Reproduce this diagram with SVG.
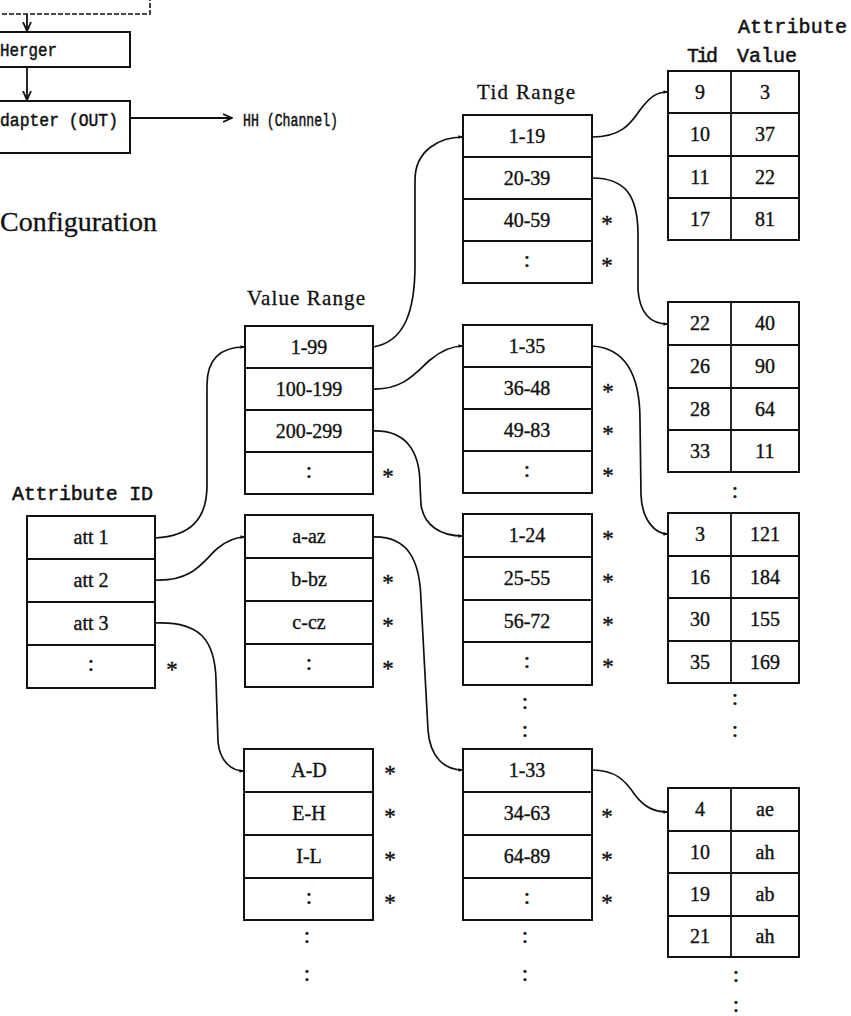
<svg xmlns="http://www.w3.org/2000/svg" width="851" height="1016" viewBox="0 0 851 1016">
<style>
.box{fill:#fff;stroke:#111;stroke-width:2}
.ln{stroke:#111;stroke-width:1.8}
.c{font-family:"Liberation Serif",serif;font-size:20px;text-anchor:middle;fill:#111;stroke:#111;stroke-width:0.35}
.col{font-family:"Liberation Serif",serif;font-size:23px;text-anchor:middle;fill:#111;stroke:#111;stroke-width:0.4}
.st{font-family:"Liberation Serif",serif;font-size:23px;text-anchor:middle;fill:#111;stroke:#111;stroke-width:0.4}
.hd{font-family:"Liberation Serif",serif;font-size:21px;fill:#111;stroke:#111;stroke-width:0.3}
.mono{font-family:"Liberation Mono",monospace;font-size:20px;fill:#111;stroke:#111;stroke-width:0.5}
.conn{fill:none;stroke:#111;stroke-width:1.7}
.arr{fill:none;stroke:#111;stroke-width:1.8}
</style>
<defs>
<marker id="ah" viewBox="0 0 6 6" refX="5.5" refY="3" markerWidth="5" markerHeight="5" markerUnits="userSpaceOnUse" orient="auto"><path d="M0,0.8 L6,3 L0,5.2 Z" fill="#111"/></marker>
<marker id="v" viewBox="0 0 10 10" refX="9" refY="5" markerWidth="10" markerHeight="10" markerUnits="userSpaceOnUse" orient="auto"><path d="M0,1 L9,5 L0,9" fill="none" stroke="#111" stroke-width="1.8"/></marker>
</defs>

<!-- top-left partial block diagram -->
<g id="prev-box"><path d="M-5,14 L150,14 L150,-5" fill="none" stroke="#111" stroke-width="1.6" stroke-dasharray="5,2"/></g>
<g id="merger"><rect x="-5" y="32" width="135" height="35" class="box"/><text x="0" y="56" class="mono" style="font-size:19px" textLength="57" lengthAdjust="spacingAndGlyphs">Herger</text></g>
<g id="adapter"><rect x="-5" y="101" width="135" height="52" class="box"/><text x="0" y="126" class="mono" style="font-size:19px" textLength="118" lengthAdjust="spacingAndGlyphs">dapter (OUT)</text></g>
<g id="channel"><text x="243" y="126" class="mono" style="font-size:18px" textLength="95" lengthAdjust="spacingAndGlyphs">HH (Channel)</text></g>
<text x="0" y="231" class="hd" style="font-size:28px">Configuration</text>

<!-- headers -->
<text x="477" y="99" class="hd" textLength="98">Tid Range</text>
<text x="247" y="305" class="hd" textLength="118">Value Range</text>
<text x="12" y="500" class="mono" textLength="141">Attribute ID</text>
<text x="738" y="33" class="mono" textLength="109">Attribute</text>
<text x="687" y="62" class="mono" textLength="31">Tid</text>
<text x="737" y="62" class="mono" textLength="60">Value</text>

<!-- Attribute ID table -->
<g id="attr-id">
<rect x="27" y="516" width="128" height="172" class="box"/>
<line x1="27" y1="559" x2="155" y2="559" class="ln"/><line x1="27" y1="602" x2="155" y2="602" class="ln"/><line x1="27" y1="645" x2="155" y2="645" class="ln"/>
<text x="91" y="544" class="c">att 1</text><text x="91" y="587" class="c">att 2</text><text x="91" y="630" class="c">att 3</text><text x="91" y="671" class="col">:</text>
<text x="172" y="677" class="st">*</text>
</g>

<!-- Value Range tables -->
<g id="vr1">
<rect x="245" y="326" width="128" height="168" class="box"/>
<line x1="245" y1="368" x2="373" y2="368" class="ln"/><line x1="245" y1="410" x2="373" y2="410" class="ln"/><line x1="245" y1="452" x2="373" y2="452" class="ln"/>
<text x="309" y="354" class="c">1-99</text><text x="309" y="396" class="c">100-199</text><text x="309" y="438" class="c">200-299</text><text x="309" y="478" class="col">:</text>
<text x="388" y="484" class="st">*</text>
</g>
<g id="vr2">
<rect x="245" y="515" width="128" height="172" class="box"/>
<line x1="245" y1="558" x2="373" y2="558" class="ln"/><line x1="245" y1="601" x2="373" y2="601" class="ln"/><line x1="245" y1="644" x2="373" y2="644" class="ln"/>
<text x="309" y="543" class="c">a-az</text><text x="309" y="586" class="c">b-bz</text><text x="309" y="629" class="c">c-cz</text><text x="309" y="670" class="col">:</text>
<text x="388" y="590" class="st">*</text><text x="388" y="633" class="st">*</text><text x="388" y="676" class="st">*</text>
</g>
<g id="vr3">
<rect x="244" y="749" width="129" height="171" class="box"/>
<line x1="244" y1="792" x2="373" y2="792" class="ln"/><line x1="244" y1="835" x2="373" y2="835" class="ln"/><line x1="244" y1="878" x2="373" y2="878" class="ln"/>
<text x="309" y="777" class="c">A-D</text><text x="309" y="820" class="c">E-H</text><text x="309" y="863" class="c">I-L</text><text x="309" y="904" class="col">:</text>
<text x="390" y="781" class="st">*</text><text x="390" y="824" class="st">*</text><text x="390" y="867" class="st">*</text><text x="390" y="910" class="st">*</text>
<text x="307" y="943" class="col">:</text><text x="307" y="981" class="col">:</text>
</g>

<!-- Tid Range tables -->
<g id="tr1">
<rect x="463" y="115" width="129" height="168" class="box"/>
<line x1="463" y1="157" x2="592" y2="157" class="ln"/><line x1="463" y1="199" x2="592" y2="199" class="ln"/><line x1="463" y1="241" x2="592" y2="241" class="ln"/>
<text x="527" y="143" class="c">1-19</text><text x="527" y="185" class="c">20-39</text><text x="527" y="227" class="c">40-59</text><text x="527" y="267" class="col">:</text>
<text x="607" y="231" class="st">*</text><text x="607" y="273" class="st">*</text>
</g>
<g id="tr2">
<rect x="463" y="325" width="129" height="168" class="box"/>
<line x1="463" y1="367" x2="592" y2="367" class="ln"/><line x1="463" y1="409" x2="592" y2="409" class="ln"/><line x1="463" y1="451" x2="592" y2="451" class="ln"/>
<text x="527" y="353" class="c">1-35</text><text x="527" y="395" class="c">36-48</text><text x="527" y="437" class="c">49-83</text><text x="527" y="477" class="col">:</text>
<text x="608" y="399" class="st">*</text><text x="608" y="441" class="st">*</text><text x="608" y="483" class="st">*</text>
</g>
<g id="tr3">
<rect x="463" y="514" width="129" height="171" class="box"/>
<line x1="463" y1="557" x2="592" y2="557" class="ln"/><line x1="463" y1="600" x2="592" y2="600" class="ln"/><line x1="463" y1="642" x2="592" y2="642" class="ln"/>
<text x="527" y="542" class="c">1-24</text><text x="527" y="585" class="c">25-55</text><text x="527" y="628" class="c">56-72</text><text x="527" y="668" class="col">:</text>
<text x="608" y="546" class="st">*</text><text x="608" y="589" class="st">*</text><text x="608" y="632" class="st">*</text><text x="608" y="674" class="st">*</text>
<text x="525" y="709" class="col">:</text><text x="525" y="737" class="col">:</text>
</g>
<g id="tr4">
<rect x="463" y="749" width="129" height="171" class="box"/>
<line x1="463" y1="792" x2="592" y2="792" class="ln"/><line x1="463" y1="835" x2="592" y2="835" class="ln"/><line x1="463" y1="878" x2="592" y2="878" class="ln"/>
<text x="527" y="777" class="c">1-33</text><text x="527" y="820" class="c">34-63</text><text x="527" y="863" class="c">64-89</text><text x="527" y="904" class="col">:</text>
<text x="607" y="824" class="st">*</text><text x="607" y="867" class="st">*</text><text x="607" y="910" class="st">*</text>
<text x="525" y="943" class="col">:</text><text x="525" y="981" class="col">:</text>
</g>

<!-- Tid / Attribute Value tables -->
<g id="tv1">
<rect x="668" y="71" width="131" height="169" class="box"/>
<line x1="731" y1="71" x2="731" y2="240" class="ln"/>
<line x1="668" y1="113" x2="799" y2="113" class="ln"/><line x1="668" y1="156" x2="799" y2="156" class="ln"/><line x1="668" y1="198" x2="799" y2="198" class="ln"/>
<text x="700" y="99" class="c">9</text><text x="765" y="99" class="c">3</text>
<text x="700" y="141" class="c">10</text><text x="765" y="141" class="c">37</text>
<text x="700" y="184" class="c">11</text><text x="765" y="184" class="c">22</text>
<text x="700" y="226" class="c">17</text><text x="765" y="226" class="c">81</text>
</g>
<g id="tv2">
<rect x="668" y="302" width="131" height="170" class="box"/>
<line x1="731" y1="302" x2="731" y2="472" class="ln"/>
<line x1="668" y1="345" x2="799" y2="345" class="ln"/><line x1="668" y1="388" x2="799" y2="388" class="ln"/><line x1="668" y1="430" x2="799" y2="430" class="ln"/>
<text x="700" y="330" class="c">22</text><text x="765" y="330" class="c">40</text>
<text x="700" y="373" class="c">26</text><text x="765" y="373" class="c">90</text>
<text x="700" y="416" class="c">28</text><text x="765" y="416" class="c">64</text>
<text x="700" y="458" class="c">33</text><text x="765" y="458" class="c">11</text>
<text x="735" y="498" class="col">:</text>
</g>
<g id="tv3">
<rect x="668" y="513" width="131" height="170" class="box"/>
<line x1="731" y1="513" x2="731" y2="683" class="ln"/>
<line x1="668" y1="556" x2="799" y2="556" class="ln"/><line x1="668" y1="598" x2="799" y2="598" class="ln"/><line x1="668" y1="641" x2="799" y2="641" class="ln"/>
<text x="700" y="541" class="c">3</text><text x="765" y="541" class="c">121</text>
<text x="700" y="584" class="c">16</text><text x="765" y="584" class="c">184</text>
<text x="700" y="626" class="c">30</text><text x="765" y="626" class="c">155</text>
<text x="700" y="669" class="c">35</text><text x="765" y="669" class="c">169</text>
<text x="735" y="705" class="col">:</text><text x="735" y="737" class="col">:</text>
</g>
<g id="tv4">
<rect x="668" y="788" width="131" height="169" class="box"/>
<line x1="731" y1="788" x2="731" y2="957" class="ln"/>
<line x1="668" y1="831" x2="799" y2="831" class="ln"/><line x1="668" y1="873" x2="799" y2="873" class="ln"/><line x1="668" y1="916" x2="799" y2="916" class="ln"/>
<text x="700" y="816" class="c">4</text><text x="765" y="816" class="c">ae</text>
<text x="700" y="859" class="c">10</text><text x="765" y="859" class="c">ah</text>
<text x="700" y="901" class="c">19</text><text x="765" y="901" class="c">ab</text>
<text x="700" y="943" class="c">21</text><text x="765" y="943" class="c">ah</text>
<text x="736" y="982" class="col">:</text><text x="736" y="1012" class="col">:</text>
</g>

<!-- connectors -->
<g id="connectors">
<line x1="27" y1="14" x2="27" y2="31" class="arr" marker-end="url(#v)"/>
<line x1="27" y1="67" x2="27" y2="100" class="arr" marker-end="url(#v)"/>
<line x1="130" y1="118" x2="232" y2="118" class="arr" marker-end="url(#v)"/>
<path class="conn" marker-end="url(#ah)" d="M155,538 C190,536 207,520 207,485 L207,385 C207,358 222,347 245,347"/>
<path class="conn" marker-end="url(#ah)" d="M155,580 C195,582 205,558 218,548 C228,540 236,537 245,537"/>
<path class="conn" marker-end="url(#ah)" d="M155,623 C200,621 215,640 216,680 L218,742 C220,762 232,771 244,771"/>
<path class="conn" marker-end="url(#ah)" d="M373,347 C405,342 415,310 415,265 L415,180 C415,150 440,137 463,137"/>
<path class="conn" marker-end="url(#ah)" d="M373,389 C405,390 418,370 430,360 C442,350 452,346 463,346"/>
<path class="conn" marker-end="url(#ah)" d="M373,431 C405,430 420,450 420,485 L421,505 C424,525 440,536 463,536"/>
<path class="conn" marker-end="url(#ah)" d="M373,537 C408,536 420,560 421,600 L428,730 C430,758 445,770 463,770"/>
<path class="conn" marker-end="url(#ah)" d="M592,137 C620,137 630,125 640,110 C650,97 656,92 668,92"/>
<path class="conn" marker-end="url(#ah)" d="M592,178 C625,178 638,195 638,235 L638,290 C640,315 652,324 668,324"/>
<path class="conn" marker-end="url(#ah)" d="M592,346 C625,348 640,375 640,420 L641,495 C642,520 655,534 668,534"/>
<path class="conn" marker-end="url(#ah)" d="M592,770 C615,770 625,780 635,795 C645,808 655,812 668,812"/>
</g>
</svg>
